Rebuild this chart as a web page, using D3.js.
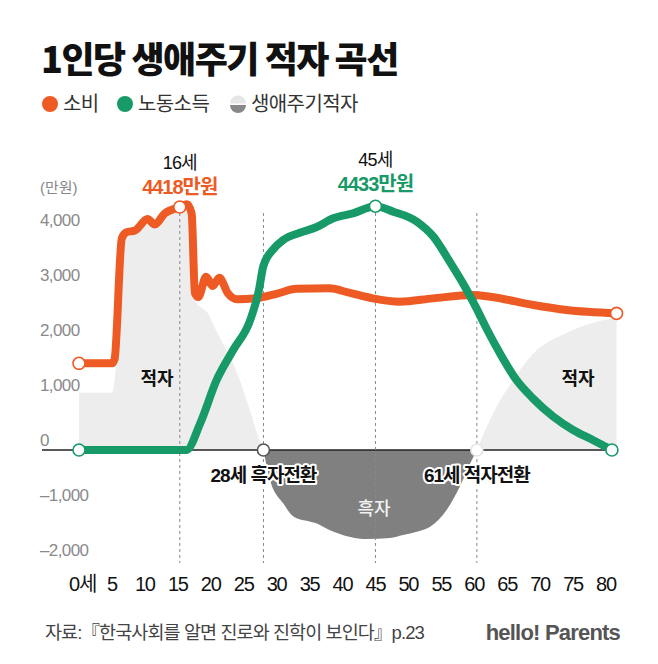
<!DOCTYPE html>
<html>
<head>
<meta charset="utf-8">
<script src="https://cdn.jsdelivr.net/npm/d3@7"></script>
<style>
  body { margin: 0; background: #fff; }
  text { font-family: "Liberation Sans", "Noto Sans CJK KR", sans-serif; }
  .kr { font-family: "Noto Sans CJK KR", sans-serif; }
</style>
</head>
<body>
<div id="chart"></div>
<script>
// [age, 만원]
const consumption = [
    [0, 1576], [5, 1576], [5.4, 1650], [6.5, 3850], [7.2, 3960], [8.5, 3990],
    [10.4, 4200], [11.5, 4100], [13, 4300], [15.3, 4418], [16.4, 4470], [17.1, 4300],
    [17.6, 2850], [18.1, 2780], [19.3, 3150], [20.3, 2980], [21.3, 3130], [22.6, 2850],
    [24, 2740], [27, 2760], [30, 2840], [33, 2930], [38, 2939], [41, 2860],
    [44.6, 2757], [48.7, 2697], [53.7, 2757], [59.8, 2818], [62.4, 2788], [69, 2636],
    [74, 2545], [81.6, 2485]
];
const laborIncome = [
    [0, 0], [16.3, 0], [18.4, 485], [20.9, 1273], [23.4, 1818], [26, 2364],
    [27.3, 2900], [28, 3350], [29.5, 3650], [31, 3818], [33.5, 3950], [36, 4050],
    [38.6, 4212], [41.6, 4303], [45, 4433], [47.7, 4333], [51.3, 4151], [53.8, 3879],
    [56.3, 3420], [58.9, 2900], [60.4, 2560], [61.9, 2200], [63.9, 1758], [66.4, 1273],
    [68.9, 939], [72, 606], [75, 364], [78, 182], [80.9, 0]
];
// 생애주기적자 (소비 - 노동소득)
const deficitYoung = [
    [0, 1040], [5, 1040], [5.6, 1500], [6.7, 3800], [8.5, 3950], [10.4, 4150],
    [11.5, 4050], [13, 4250], [15.3, 4380], [16.4, 4420], [17.1, 4250], [17.7, 2700],
    [19, 2550], [19.6, 2480], [20.3, 2300], [22, 1900], [24, 1400], [26, 700],
    [27.5, 150], [28, 0]
];
const surplus = [
    [28, 0], [29, -545], [31, -970], [32.6, -1212], [36, -1333], [38, -1455],
    [41, -1576], [43.7, -1618], [47.2, -1600], [49.2, -1545], [51.3, -1485],
    [53.3, -1394], [55.8, -1091], [57.8, -667], [59.4, -242], [60.4, 0]
];
const deficitOld = [
    [60.4, 0], [63, 700], [65.9, 1273], [69, 1758], [74, 2127], [81.6, 2418]
];

const xTicks = [0, 5, 10, 15, 20, 25, 30, 35, 40, 45, 50, 55, 60, 65, 70, 75, 80];
const yTicks = [4000, 3000, 2000, 1000, 0, -1000, -2000];
const yTickLabels = ["4,000", "3,000", "2,000", "1,000", "0", "–1,000", "–2,000"];
const guideAges = [15.3, 28, 45, 60.4];
const legendItems = ["소비", "노동소득", "생애주기적자"];

const orange = "#ee5a24";
const green = "#179a68";

const width = 658;
const height = 664;

const svg = d3.select("#chart")
    .append("svg")
    .attr("width", width)
    .attr("height", height)
    .attr("viewBox", `0 0 ${width} ${height}`);

svg.append("rect").attr("width", width).attr("height", height).attr("fill", "#fff");

const x = d3.scaleLinear().domain([0, 80]).range([79, 606]);
const y = d3.scaleLinear().domain([0, 4000]).range([450, 230]);

// title + legend
svg.append("text")
    .attr("class", "kr")
    .attr("x", 41).attr("y", 73)
    .attr("font-size", 36).attr("font-weight", 900)
    .attr("letter-spacing", -1.5)
    .attr("fill", "#111")
    .text("1인당 생애주기 적자 곡선");

const legendX = [50, 125, 238];
const legend = svg.append("g").attr("class", "kr");
legend.append("circle").attr("cx", legendX[0]).attr("cy", 104).attr("r", 8).attr("fill", orange);
legend.append("circle").attr("cx", legendX[1]).attr("cy", 104).attr("r", 8).attr("fill", green);
const halfArc = d3.arc().innerRadius(0).outerRadius(8);
legend.append("path")
    .attr("transform", `translate(${legendX[2]},103.5)`)
    .attr("d", halfArc({ startAngle: -Math.PI / 2, endAngle: Math.PI / 2 }))
    .attr("fill", "#e6e6e6");
legend.append("path")
    .attr("transform", `translate(${legendX[2]},105)`)
    .attr("d", halfArc({ startAngle: Math.PI / 2, endAngle: Math.PI * 1.5 }))
    .attr("fill", "#888");
legend.selectAll("text.leg")
    .data(legendItems)
    .join("text")
    .attr("class", "leg kr")
    .attr("x", (d, i) => legendX[i] + 13)
    .attr("y", 111)
    .attr("font-size", 20)
    .attr("fill", "#333")
    .attr("letter-spacing", -0.6)
    .text(d => d);

// areas
const area = d3.area()
    .x(d => x(d[0]))
    .y0(y(0))
    .y1(d => y(d[1]))
    .curve(d3.curveMonotoneX);

svg.append("path").attr("d", area(deficitYoung)).attr("fill", "#ededed");
svg.append("path").attr("d", area(deficitOld)).attr("fill", "#ededed");
svg.append("path").attr("d", area(surplus)).attr("fill", "#808080");

// y axis labels
svg.append("text")
    .attr("x", 40).attr("y", 193)
    .attr("font-size", 15).attr("fill", "#888")
    .text("(만원)");

svg.selectAll("text.ytick")
    .data(yTicks)
    .join("text")
    .attr("class", "ytick")
    .attr("x", 40)
    .attr("y", d => y(d) - 10)
    .attr("dy", "0.35em")
    .attr("font-size", 17)
    .attr("letter-spacing", -0.6)
    .attr("fill", "#8a8a8a")
    .text((d, i) => yTickLabels[i]);

// baseline
svg.append("line")
    .attr("x1", 42).attr("x2", x(81.6))
    .attr("y1", y(0)).attr("y2", y(0))
    .attr("stroke", "#222").attr("stroke-width", 1.3);

// guides
svg.selectAll("line.guide")
    .data(guideAges)
    .join("line")
    .attr("class", "guide")
    .attr("x1", d => x(d)).attr("x2", d => x(d))
    .attr("y1", 213).attr("y2", 563)
    .attr("stroke", "#888")
    .attr("stroke-width", 1)
    .attr("stroke-dasharray", "3,3");

// x axis labels
svg.selectAll("text.xtick")
    .data(xTicks)
    .join("text")
    .attr("class", "xtick")
    .attr("x", d => d === 0 ? x(d) - 10 : x(d))
    .attr("y", 591)
    .attr("text-anchor", d => d === 0 ? "start" : "middle")
    .attr("font-size", 20)
    .attr("letter-spacing", -1.2)
    .attr("fill", "#111")
    .text(d => d === 0 ? "0세" : d);

// lines
const line = d3.line()
    .x(d => x(d[0]))
    .y(d => y(d[1]))
    .curve(d3.curveMonotoneX);

svg.append("path")
    .attr("d", line(consumption))
    .attr("fill", "none")
    .attr("stroke", orange)
    .attr("stroke-width", 8)
    .attr("stroke-linejoin", "round")
    .attr("stroke-linecap", "round");

svg.append("path")
    .attr("d", line(laborIncome))
    .attr("fill", "none")
    .attr("stroke", green)
    .attr("stroke-width", 8)
    .attr("stroke-linejoin", "round")
    .attr("stroke-linecap", "round");

// markers
const markers = [
    [consumption[0], orange], [laborIncome[0], green],
    [consumption[9], orange], [laborIncome[14], green],
    [surplus[0], "#555"], [surplus[surplus.length - 1], "#e4e4e4"],
    [consumption[consumption.length - 1], orange], [laborIncome[laborIncome.length - 1], green]
];
svg.selectAll("circle.marker")
    .data(markers)
    .join("circle")
    .attr("class", "marker")
    .attr("cx", d => x(d[0][0]))
    .attr("cy", d => y(d[0][1]))
    .attr("r", 6)
    .attr("fill", "#fff")
    .attr("stroke", d => d[1])
    .attr("stroke-width", 1.6);

// annotations
const peaks = [
    { age: 15.3, label: "16세", value: "4418만원", color: orange, y1: 169, y2: 194 },
    { age: 45, label: "45세", value: "4433만원", color: green, y1: 166, y2: 191 }
];
peaks.forEach(p => {
    svg.append("text")
        .attr("x", x(p.age)).attr("y", p.y1)
        .attr("text-anchor", "middle")
        .attr("font-size", 18).attr("letter-spacing", -0.8)
        .attr("fill", "#111")
        .text(p.label);
    svg.append("text")
        .attr("x", x(p.age)).attr("y", p.y2)
        .attr("text-anchor", "middle")
        .attr("font-size", 20).attr("font-weight", 600).attr("letter-spacing", -1)
        .attr("fill", p.color)
        .text(p.value);
});

svg.append("text")
    .attr("class", "kr")
    .attr("x", 157).attr("y", 385)
    .attr("text-anchor", "middle")
    .attr("font-size", 18).attr("font-weight", 700)
    .attr("fill", "#111")
    .text("적자");
svg.append("text")
    .attr("class", "kr")
    .attr("x", 578).attr("y", 385)
    .attr("text-anchor", "middle")
    .attr("font-size", 18).attr("font-weight", 700)
    .attr("fill", "#111")
    .text("적자");
svg.append("text")
    .attr("class", "kr")
    .attr("x", 374).attr("y", 515)
    .attr("text-anchor", "middle")
    .attr("font-size", 18).attr("font-weight", 500)
    .attr("fill", "#f2f2f2")
    .text("흑자");

const turns = [
    { age: 28, label: "28세 흑자전환" },
    { age: 60.4, label: "61세 적자전환" }
];
svg.selectAll("text.turn")
    .data(turns)
    .join("text")
    .attr("class", "turn")
    .attr("x", d => x(d.age))
    .attr("y", 482)
    .attr("text-anchor", "middle")
    .attr("font-size", 19).attr("font-weight", 700)
    .attr("letter-spacing", -1)
    .attr("fill", "#111")
    .attr("stroke", "#fff").attr("stroke-width", 4)
    .attr("stroke-linejoin", "round")
    .attr("paint-order", "stroke")
    .text(d => d.label);

// footer
svg.append("text")
    .attr("x", 45).attr("y", 639)
    .attr("font-size", 18.5).attr("letter-spacing", -0.9)
    .attr("fill", "#444")
    .text("자료:『한국사회를 알면 진로와 진학이 보인다』p.23");
svg.append("text")
    .attr("x", 620).attr("y", 640)
    .attr("text-anchor", "end")
    .attr("font-family", "Inter, sans-serif")
    .attr("font-size", 22).attr("font-weight", 700)
    .attr("letter-spacing", -0.8)
    .attr("fill", "#555")
    .text("hello! Parents");
</script>
</body>
</html>
